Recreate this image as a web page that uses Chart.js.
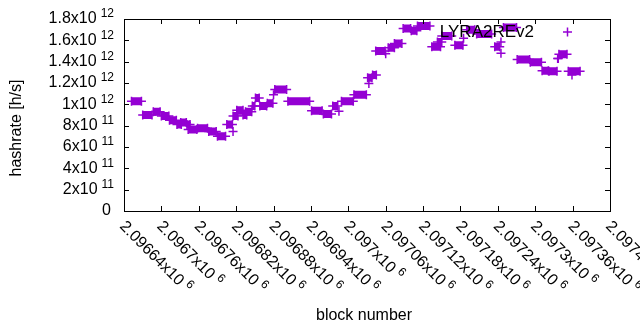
<!DOCTYPE html>
<html>
<head>
<meta charset="utf-8">
<script src="https://cdn.jsdelivr.net/npm/chart.js@4/dist/chart.umd.min.js"></script>
<style>
  body { margin: 0; background: #fff; }
  #wrap { width: 640px; height: 330px; }
</style>
</head>
<body>
<div id="wrap"><canvas id="myChart" width="640" height="330"></canvas></div>
<script>
// runs of blocks sharing the same hashrate estimate (first block, last block, h/s)
var runFirst = [2096652, 2096670, 2096687, 2096700, 2096713, 2096725, 2096731, 2096741, 2096743, 2096758,
  2096776, 2096790, 2096805, 2096815, 2096815, 2096821, 2096831, 2096835, 2096846, 2096851,
  2096858, 2096870, 2096880, 2096882, 2096903, 2096941, 2096960, 2096975, 2096985, 2096989,
  2097009, 2097031, 2097033, 2097039, 2097044, 2097060, 2097064, 2097074, 2097088, 2097101,
  2097111, 2097134, 2097143, 2097150, 2097171, 2097185, 2097190, 2097206, 2097235, 2097245,
  2097245, 2097249, 2097271, 2097292, 2097311, 2097322, 2097336, 2097338, 2097353, 2097359];
var runLast = [2096668, 2096685, 2096698, 2096712, 2096724, 2096732, 2096740, 2096746, 2096757, 2096774,
  2096788, 2096803, 2096814, 2096815, 2096823, 2096831, 2096837, 2096845, 2096850, 2096857,
  2096869, 2096879, 2096880, 2096901, 2096938, 2096958, 2096973, 2096983, 2096985, 2097008,
  2097029, 2097038, 2097033, 2097045, 2097059, 2097060, 2097074, 2097086, 2097100, 2097110,
  2097131, 2097148, 2097150, 2097166, 2097184, 2097185, 2097203, 2097230, 2097243, 2097245,
  2097245, 2097270, 2097291, 2097310, 2097321, 2097335, 2097337, 2097351, 2097372, 2097359];
var runRate = [1.03e12, 0.90e12, 0.93e12, 0.89e12, 0.85e12, 0.81e12, 0.83e12, 0.81e12, 0.765e12, 0.775e12,
  0.745e12, 0.70e12, 0.81e12, 0.745e12, 0.89e12, 0.945e12, 0.90e12, 0.93e12, 0.985e12, 1.06e12,
  0.985e12, 1.01e12, 1.09e12, 1.14e12, 1.03e12, 0.94e12, 0.91e12, 0.985e12, 0.935e12, 1.03e12,
  1.09e12, 1.25e12, 1.195e12, 1.275e12, 1.50e12, 1.475e12, 1.53e12, 1.57e12, 1.71e12, 1.69e12,
  1.735e12, 1.54e12, 1.585e12, 1.64e12, 1.555e12, 1.62e12, 1.70e12, 1.66e12, 1.54e12, 1.585e12,
  1.48e12, 1.72e12, 1.42e12, 1.395e12, 1.315e12, 1.31e12, 1.43e12, 1.47e12, 1.31e12, 1.275e12];

var xTicks = [2096640, 2096700, 2096760, 2096820, 2096880, 2096940, 2097000,
  2097060, 2097120, 2097180, 2097240, 2097300, 2097360, 2097420];
var yTicks = [0, 2e11, 4e11, 6e11, 8e11, 1e12, 1.2e12, 1.4e12, 1.6e12, 1.8e12];

var FONT = '"Liberation Sans", Arial, sans-serif';
var PURPLE = '#9400d3';

// start/end of each run, null in between so the line breaks
function buildPoints() {
  var pts = [];
  for (var i = 0; i < runFirst.length; i++) {
    pts.push({ x: runFirst[i], y: runRate[i] });
    if (runLast[i] !== runFirst[i]) pts.push({ x: runLast[i], y: runRate[i] });
    pts.push({ x: runLast[i], y: null });
  }
  return pts;
}

// "1.8x10" + exponent "12" style labels
function yParts(v) {
  if (v === 0) return ['0', ''];
  var e = v >= 1e12 ? 12 : 11;
  return [parseFloat((v / Math.pow(10, e)).toFixed(3)) + 'x10', String(e)];
}
function xParts(v) {
  return [parseFloat((v / 1e6).toFixed(5)) + 'x10', '6'];
}

var gnuplotLook = {
  id: 'gnuplotLook',
  afterDatasetsDraw: function(chart) {
    var ctx = chart.ctx, a = chart.chartArea;
    var xs = chart.scales.x, ys = chart.scales.y;
    ctx.save();
    ctx.strokeStyle = '#000';
    ctx.lineWidth = 1;
    ctx.strokeRect(a.left + 0.5, a.top + 0.5, a.right - a.left, a.bottom - a.top);

    // inward ticks on all four sides
    ctx.beginPath();
    yTicks.forEach(function(t) {
      var y = Math.round(ys.getPixelForValue(t)) + 0.5;
      ctx.moveTo(a.left, y); ctx.lineTo(a.left + 5, y);
      ctx.moveTo(a.right, y); ctx.lineTo(a.right - 5, y);
    });
    xTicks.forEach(function(t) {
      var x = Math.round(xs.getPixelForValue(t)) + 0.5;
      ctx.moveTo(x, a.bottom); ctx.lineTo(x, a.bottom - 5);
      ctx.moveTo(x, a.top); ctx.lineTo(x, a.top + 5);
    });
    ctx.stroke();

    ctx.fillStyle = '#000';
    ctx.textBaseline = 'middle';
    // y labels
    yTicks.forEach(function(t) {
      var y = ys.getPixelForValue(t);
      var p = yParts(t);
      var right = a.left - 10;
      ctx.textAlign = 'right';
      if (p[1]) {
        ctx.font = '12px ' + FONT;
        ctx.fillText(p[1], right, y - 5);
        right -= ctx.measureText(p[1]).width + 4;
      } else {
        right -= 3;
      }
      ctx.font = '16px ' + FONT;
      ctx.fillText(p[0], right, y);
    });
    // x labels, rotated -45
    xTicks.forEach(function(t) {
      var x = xs.getPixelForValue(t);
      var p = xParts(t);
      ctx.save();
      ctx.translate(x - 2, a.bottom + 13);
      ctx.rotate(Math.PI / 4);
      ctx.textAlign = 'left';
      ctx.font = '16px ' + FONT;
      ctx.fillText(p[0], 0, 0);
      var w = ctx.measureText(p[0]).width + 4;
      ctx.font = '12px ' + FONT;
      ctx.fillText(p[1], w, -5);
      ctx.restore();
    });

    // axis titles
    ctx.font = '16px ' + FONT;
    ctx.textAlign = 'center';
    ctx.fillText('block number', (a.left + a.right) / 2 - 3, 316);
    ctx.save();
    ctx.translate(17, (a.top + a.bottom) / 2 + 13);
    ctx.rotate(-Math.PI / 2);
    ctx.fillText('hashrate [h/s]', 0, 0);
    ctx.restore();

    // key, top right inside the frame
    var ds = chart.data.datasets[0];
    ctx.font = '17px ' + FONT;
    ctx.textAlign = 'right';
    ctx.fillText(ds.label, 534, 32);
    ctx.strokeStyle = PURPLE;
    ctx.lineWidth = 1.5;
    ctx.beginPath();
    ctx.moveTo(563, 32); ctx.lineTo(572, 32);
    ctx.moveTo(567.5, 27.5); ctx.lineTo(567.5, 36.5);
    ctx.stroke();
    ctx.restore();
  }
};

new Chart(document.getElementById('myChart'), {
  type: 'scatter',
  data: {
    datasets: [{
      label: 'LYRA2REv2',
      data: buildPoints(),
      showLine: true,
      spanGaps: false,
      borderColor: PURPLE,
      backgroundColor: PURPLE,
      borderWidth: 8,
      borderCapStyle: 'butt',
      pointStyle: 'cross',
      pointRadius: 4.5,
      pointBorderWidth: 1.5,
      pointBorderColor: PURPLE
    }]
  },
  options: {
    responsive: false,
    animation: false,
    layout: { padding: { left: 124, top: 19, right: 30, bottom: 119 } },
    plugins: { legend: { display: false }, tooltip: { enabled: false } },
    scales: {
      x: { type: 'linear', display: false, min: 2096640, max: 2097420 },
      y: { display: false, min: 0, max: 1.8e12 }
    }
  },
  plugins: [gnuplotLook]
});
</script>
</body>
</html>
